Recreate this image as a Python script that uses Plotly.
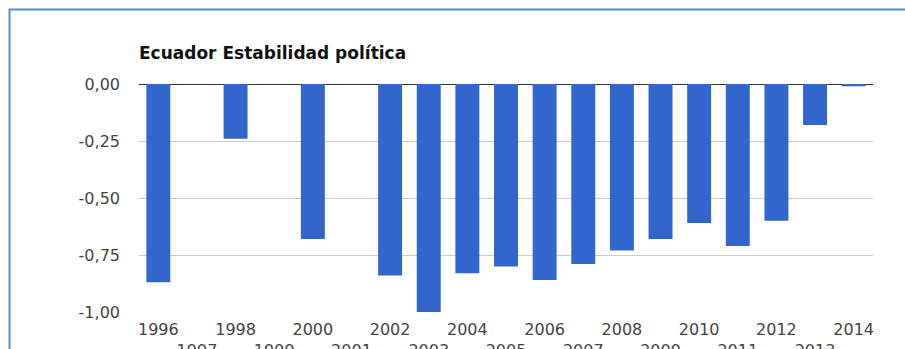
import plotly.graph_objects as go

years = [str(y) for y in range(1996, 2015)]
values = [-0.87, None, -0.24, None, -0.68, None, -0.84, -1.00, -0.83, -0.80,
          -0.86, -0.79, -0.73, -0.68, -0.61, -0.71, -0.60, -0.18, -0.01]
x_tick_text = [y if int(y) % 2 == 0 else "<br>" + y for y in years]
y_tick_vals = [0, -0.25, -0.5, -0.75, -1.0]
y_tick_text = ["0,00", "-0,25", "-0,50", "-0,75", "-1,00"]
title_text = "Ecuador Estabilidad política"

W, H = 905, 349
L, R, T, B = 139, 32, 84, 37

fig = go.Figure()
fig.add_trace(go.Bar(x=years, y=values, marker=dict(color="#3366cc", line=dict(width=0)),
                     hoverinfo="x+y"))

font = "DejaVu Sans"
fig.update_layout(
    width=W, height=H,
    margin=dict(l=L, r=R, t=T, b=B, pad=0, autoexpand=False),
    paper_bgcolor="white", plot_bgcolor="white",
    bargap=0.38,
    showlegend=False,
    title=dict(text="<b>" + title_text + "</b>", x=0, xref="paper", xanchor="left",
               y=1 - 53 / H, yref="container", yanchor="middle",
               font=dict(family=font, size=17, color="#111")),
    xaxis=dict(type="category", tickvals=years, ticktext=x_tick_text, showgrid=False,
               ticks="", showline=False, zeroline=False, ticklabelstandoff=6,
               automargin=False,
               tickfont=dict(family=font, size=16, color="#444"), tickangle=0),
    yaxis=dict(range=[-1.0, 0.0], tickvals=y_tick_vals, ticktext=y_tick_text,
               showgrid=True, gridcolor="#cccccc", gridwidth=1,
               zeroline=True, zerolinecolor="#333333", zerolinewidth=1,
               ticks="", showline=False, ticklabelstandoff=18, automargin=False,
               tickfont=dict(family=font, size=16, color="#444")),
)

# outer frame (blue border, top and left visible)
ph = H - T - B
pw = W - L - R
x0 = (9.5 - L) / pw
y1 = (H - B - 9.5) / ph
fig.add_shape(type="rect", xref="paper", yref="paper", x0=x0, x1=1.2, y0=-0.5, y1=y1,
              line=dict(color="#5b8bd4", width=2), fillcolor="rgba(0,0,0,0)", layer="above")

fig.write_html("out.html", config={"responsive": False, "displayModeBar": False},
               post_script="document.body.style.margin='0';document.body.style.overflow='hidden';")
